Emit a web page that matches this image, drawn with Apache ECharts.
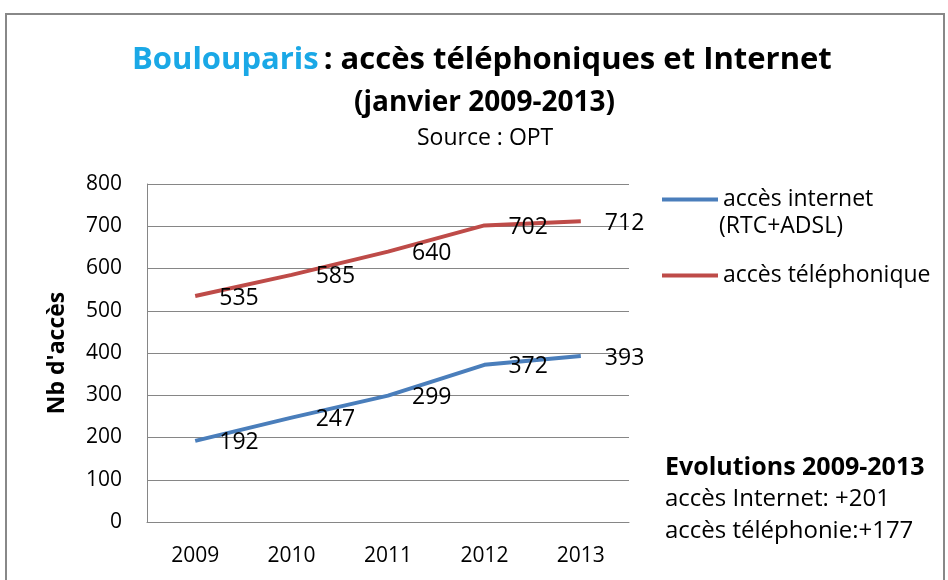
<!DOCTYPE html>
<html>
<head>
<meta charset="utf-8">
<script src="https://cdn.jsdelivr.net/npm/echarts@6/dist/echarts.min.js"></script>
<style>
  html, body { margin: 0; padding: 0; background: #fff; }
  #main { width: 948px; height: 580px; }
</style>
</head>
<body>
<div id="main"></div>
<script>
// données OPT Boulouparis
const years = ['2009', '2010', '2011', '2012', '2013'];
const internet = [192, 247, 299, 372, 393];
const telephone = [535, 585, 640, 702, 712];
const yTicks = [0, 100, 200, 300, 400, 500, 600, 700, 800];

const FONT = '"Open Sans", sans-serif';

const chart = echarts.init(document.getElementById('main'));

const labelStyle = {
  show: true,
  position: 'right',
  distance: 5,
  offset: [19, 2],
  color: '#000',
  fontSize: 23,
  fontFamily: FONT
};

chart.setOption({
  backgroundColor: '#fff',
  animation: false,
  title: [
    {
      text: '{a|Boulouparis} {b|: accès téléphoniques et Internet}',
      left: 127,
      top: 40,
      textStyle: {
        rich: {
          a: { color: '#1aa8e6', fontSize: 31, fontWeight: 'bold', fontFamily: FONT },
          b: { color: '#000', fontSize: 31, fontWeight: 'bold', fontFamily: FONT }
        }
      }
    },
    {
      text: '(janvier 2009-2013)',
      left: 349,
      top: 84,
      textStyle: { color: '#000', fontSize: 28, fontWeight: 'bold', fontFamily: FONT }
    },
    {
      text: 'Source : OPT',
      left: 412,
      top: 122,
      textStyle: { color: '#000', fontSize: 23, fontWeight: 'normal', fontFamily: FONT }
    }
  ],
  legend: {
    orient: 'vertical',
    left: 657,
    top: 183,
    itemWidth: 56,
    itemHeight: 4,
    itemGap: 53,
    icon: 'rect',
    data: ['accès internet', 'accès téléphonique'],
    textStyle: { color: '#000', fontSize: 23, fontFamily: FONT }
  },
  grid: { left: 147, right: 319, top: 184, bottom: 58 },
  xAxis: {
    type: 'category',
    data: years,
    boundaryGap: true,
    axisLine: { lineStyle: { color: '#868686', width: 1 } },
    axisTick: { show: false },
    axisLabel: { color: '#000', fontSize: 21, fontFamily: FONT, margin: 24 }
  },
  yAxis: {
    type: 'value',
    min: yTicks[0],
    max: yTicks[yTicks.length - 1],
    interval: 100,
    name: "Nb d'accès",
    nameLocation: 'middle',
    nameGap: 78,
    nameTextStyle: { color: '#000', fontSize: 23, fontWeight: 'bold', fontFamily: FONT },
    axisLine: { show: true, lineStyle: { color: '#868686', width: 1 } },
    axisTick: { show: false },
    splitLine: { lineStyle: { color: '#868686', width: 1 } },
    axisLabel: { color: '#000', fontSize: 21, fontFamily: FONT, margin: 25 }
  },
  series: [
    {
      name: 'accès internet',
      type: 'line',
      data: internet,
      symbol: 'circle',
      symbolSize: 0.1,
      showSymbol: true,
      lineStyle: { color: '#4a7ebb', width: 4 },
      itemStyle: { color: '#4a7ebb' },
      label: labelStyle
    },
    {
      name: 'accès téléphonique',
      type: 'line',
      data: telephone,
      symbol: 'circle',
      symbolSize: 0.1,
      showSymbol: true,
      lineStyle: { color: '#be4b48', width: 4 },
      itemStyle: { color: '#be4b48' },
      label: labelStyle
    }
  ],
  graphic: [
    {
      type: 'rect',
      shape: { x: 6, y: 14, width: 938, height: 580 },
      style: { fill: null, stroke: '#888', lineWidth: 2 },
      silent: true
    },
    {
      type: 'text',
      left: 719,
      top: 215,
      style: { text: '(RTC+ADSL)', fill: '#000', fontSize: 23, fontFamily: FONT }
    },
    {
      type: 'text',
      left: 665,
      top: 455,
      style: { text: 'Evolutions 2009-2013', fill: '#000', fontSize: 25, fontWeight: 'bold', fontFamily: FONT }
    },
    {
      type: 'text',
      left: 665,
      top: 487,
      style: { text: 'accès Internet: +201', fill: '#000', fontSize: 24, fontFamily: FONT }
    },
    {
      type: 'text',
      left: 665,
      top: 519,
      style: { text: 'accès téléphonie:+177', fill: '#000', fontSize: 24, fontFamily: FONT }
    }
  ]
});
</script>
</body>
</html>
